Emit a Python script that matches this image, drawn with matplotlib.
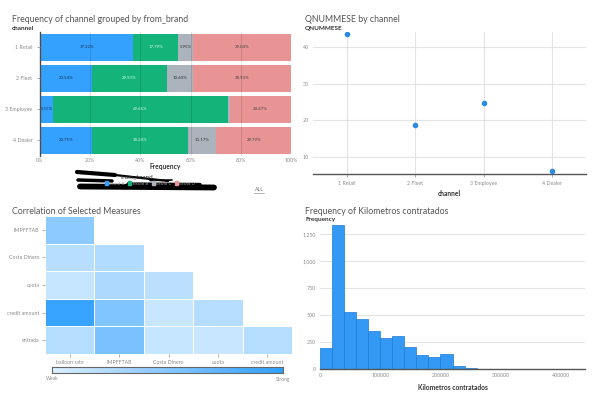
import matplotlib
matplotlib.use('Agg')
import matplotlib.pyplot as plt
from matplotlib.colors import LinearSegmentedColormap
from matplotlib.lines import Line2D
from matplotlib.patches import Patch
import numpy as np

plt.rcParams['font.family'] = ['Lato', 'DejaVu Sans']

###############################################################################
# Data
channels = ['1 Retail', '2 Fleet', '3 Employee', '4 Dealer']
brands = ['Brand A', 'Brand B', 'Brand C', 'Brand D']
brand_share = {
    'Brand A': [37.22, 20.54, 5.15, 20.75],
    'Brand B': [17.79, 29.93, 69.66, 38.28],
    'Brand C': [5.95, 10.60, 0.72, 11.17],
    'Brand D': [39.04, 38.93, 24.47, 29.79],
}
brand_colors = ['#33a1fd', '#14b37a', '#adb3bd', '#e89494']
label_colors = ['#1d3557', '#d8f5e8', '#333333', '#444444']

qnummese = [43.45, 18.74, 24.66, 6.08]

corr_rows = ['IMPFFTAB', 'Costa Dinero', 'cuota', 'credit amount', 'entrada']
corr_cols = ['balloon rate', 'IMPFFTAB', 'Costa Dinero', 'cuota', 'credit amount']
corr_vals = [
    [0.46, None, None, None, None],
    [0.21, 0.25, None, None, None],
    [0.13, 0.27, 0.19, None, None],
    [0.95, 0.53, 0.12, 0.23, None],
    [0.23, 0.57, 0.13, 0.12, 0.23],
]

km_bins = [0, 20000, 40000, 60000, 80000, 100000, 120000, 140000, 160000,
           180000, 200000, 220000, 240000, 260000, 280000, 300000, 320000,
           340000, 360000, 380000, 400000, 420000, 440000]
km_counts = [198, 1338, 527, 465, 353, 291, 307, 207, 127, 109, 139, 28, 9,
             3, 2, 2, 2, 1, 1, 1, 1, 1]

###############################################################################
W, H = 597, 398
fig = plt.figure(figsize=(W / 100, H / 100), dpi=100)


def fx(px):
    return px / W


def fy(py):
    return 1 - py / H


title_c = '#555555'
lab_c = '#333333'
tick_c = '#8c8c8c'
grid_c = '#e3e3e3'

###############################################################################
# Panel 1: stacked 100% bars
ax1 = fig.add_axes([fx(40), fy(155.7), fx(291) - fx(40), 124 / H])
y = np.arange(len(channels))
left = np.zeros(len(channels))
for i, b in enumerate(brands):
    vals = np.array(brand_share[b])
    ax1.barh(y, vals, left=left, height=0.88, color=brand_colors[i], zorder=2)
    for j, v in enumerate(vals):
        if v > 3:
            ax1.text(left[j] + v / 2, y[j], f'{v:.2f}%', ha='center', va='center',
                     fontsize=3.2, color=label_colors[i], zorder=4)
    left += vals
ax1.set_ylim(len(channels) - 0.5, -0.5)
ax1.set_xlim(0, 100)
ax1.set_yticks(y)
ax1.set_yticklabels(channels)
ax1.set_xticks(np.arange(0, 101, 20))
ax1.set_xticklabels([f'{v}%' for v in range(0, 101, 20)])
ax1.grid(axis='x', color='#000000', alpha=0.12, linewidth=0.7, zorder=3)
ax1.set_axisbelow(False)
for s in ['top', 'right', 'bottom']:
    ax1.spines[s].set_visible(False)
ax1.spines['left'].set_color('#555555')
ax1.spines['left'].set_linewidth(1.0)
ax1.tick_params(axis='both', labelsize=3.8, colors=tick_c, length=2, width=0.5)
ax1.tick_params(axis='x', length=0, pad=1.5)
ax1.set_xlabel('Frequency', fontsize=4.8, fontweight='bold', color=lab_c, labelpad=0.5)
fig.text(fx(12), fy(19), 'Frequency of channel grouped by from_brand', fontsize=6.3,
         color=title_c, va='center')
fig.text(fx(12), fy(28), 'channel', fontsize=4.6, fontweight='bold', color=lab_c, va='center')

# legend (redacted in the reference)
fig.text(fx(137), fy(177), 'from_brand', fontsize=4.6, color=lab_c, ha='center', va='center')
handles = [Patch(color=c) for c in brand_colors]
fig.legend(handles, brands, loc='center', bbox_to_anchor=(fx(150), fy(183.5)), ncol=4,
           fontsize=3.2, frameon=False, handlelength=0.7, handleheight=0.7,
           columnspacing=0.8, handletextpad=0.3, labelcolor='#999999')
for (x0, y0, x1, y1, lw) in [(77, 172, 115, 175, 3.0), (115, 175, 168, 181, 1.6),
                             (78, 180, 112, 181, 2.5), (80, 186.5, 214, 187.5, 4.2),
                             (128, 184, 200, 184.5, 2.4), (150, 180.5, 172, 180, 1.2)]:
    fig.add_artist(Line2D([fx(x0), fx(x1)], [fy(y0), fy(y1)], color='black',
                          linewidth=lw, solid_capstyle='round'))
fig.text(fx(259), fy(190), 'ALL', fontsize=3.8, color='#777777', ha='center', va='center')
fig.add_artist(Line2D([fx(254), fx(264)], [fy(193), fy(193)], color='#777777', linewidth=0.4))

###############################################################################
# Panel 2: QNUMMESE by channel
ax2 = fig.add_axes([fx(313), fy(174.3), fx(586) - fx(313), (174.3 - 31.7) / H])
ax2.scatter(range(len(channels)), qnummese, s=9, color='#2b8ae0', zorder=3)
ax2.set_xlim(-0.5, len(channels) - 0.5)
ax2.set_ylim(5.2, 44.2)
ax2.set_xticks(range(len(channels)))
ax2.set_xticklabels(channels)
ax2.set_yticks([10, 20, 30, 40])
ax2.grid(True, color=grid_c, linewidth=0.8, zorder=0)
for s in ['top', 'right', 'left']:
    ax2.spines[s].set_visible(False)
ax2.spines['bottom'].set_color('#555555')
ax2.spines['bottom'].set_linewidth(1.0)
ax2.tick_params(axis='both', labelsize=3.8, colors=tick_c, length=0, pad=3)
ax2.tick_params(axis='x', length=2, width=0.5)
ax2.set_xlabel('channel', fontsize=4.8, fontweight='bold', color=lab_c, labelpad=3)
fig.text(fx(305), fy(19.5), 'QNUMMESE by channel', fontsize=6.3, color=title_c, va='center')
fig.text(fx(305), fy(28.5), 'QNUMMESE', fontsize=4.6, fontweight='bold', color=lab_c, va='center')

###############################################################################
# Panel 3: correlation heatmap
cmap = LinearSegmentedColormap.from_list('wk', ['#dcefff', '#2f9fff'])
ax3 = fig.add_axes([fx(45), fy(354), fx(292) - fx(45), 138 / H])
corr = np.ma.masked_invalid(np.array(corr_vals, dtype=float))
ax3.pcolormesh(corr, cmap=cmap, vmin=0, vmax=1, edgecolors='white', linewidth=0.6)
ax3.set_xlim(0, len(corr_cols))
ax3.set_ylim(len(corr_rows), 0)
ax3.set_xticks(np.arange(len(corr_cols)) + 0.5)
ax3.set_xticklabels(corr_cols)
ax3.set_yticks(np.arange(len(corr_rows)) + 0.5)
ax3.set_yticklabels(corr_rows)
for s in ax3.spines.values():
    s.set_visible(False)
ax3.tick_params(axis='both', labelsize=3.8, colors=tick_c, length=2, width=0.5, pad=2)
fig.text(fx(12), fy(211), 'Correlation of Selected Measures', fontsize=6.3, color=title_c,
         va='center')

cax = fig.add_axes([fx(52), fy(373.3), fx(283) - fx(52), 6 / H])
cax.imshow(np.linspace(0, 1, 256)[None, :], aspect='auto', cmap=cmap,
           extent=[0, 1, 0, 1])
cax.set_xticks([])
cax.set_yticks([])
for s in cax.spines.values():
    s.set_color('#666666')
    s.set_linewidth(0.8)
fig.text(fx(52), fy(379), 'Weak', fontsize=3.5, color=tick_c, ha='center', va='center')
fig.text(fx(283), fy(379), 'Strong', fontsize=3.5, color=tick_c, ha='center', va='center')

###############################################################################
# Panel 4: histogram
ax4 = fig.add_axes([fx(320), fy(369), fx(585) - fx(320), (369 - 222) / H])
ax4.hist(km_bins[:-1], bins=km_bins, weights=km_counts, color='#3399f5',
         edgecolor='#1f7ad6', linewidth=0.5, zorder=2)
ax4.set_xlim(0, 440000)
ax4.set_ylim(0, 1366)
ax4.set_xticks([0, 100000, 200000, 300000, 400000])
ax4.set_xticklabels(['0', '100000', '200000', '300000', '400000'])
ax4.set_yticks([0, 250, 500, 750, 1000, 1250])
ax4.set_yticklabels(['0', '250', '500', '750', '1,000', '1,250'])
ax4.grid(axis='y', color=grid_c, linewidth=0.8, zorder=0)
for s in ['top', 'right', 'left']:
    ax4.spines[s].set_visible(False)
ax4.spines['bottom'].set_color('#555555')
ax4.spines['bottom'].set_linewidth(1.0)
ax4.tick_params(axis='both', labelsize=3.8, colors=tick_c, length=0, pad=3)
ax4.set_xlabel('Kilometros contratados', fontsize=4.8, fontweight='bold', color=lab_c,
               labelpad=4)
fig.text(fx(305), fy(211), 'Frequency of Kilometros contratados', fontsize=6.3,
         color=title_c, va='center')
fig.text(fx(305), fy(219.5), 'Frequency', fontsize=4.6, fontweight='bold', color=lab_c,
         va='center')

fig.savefig('out.png', dpi=100)
